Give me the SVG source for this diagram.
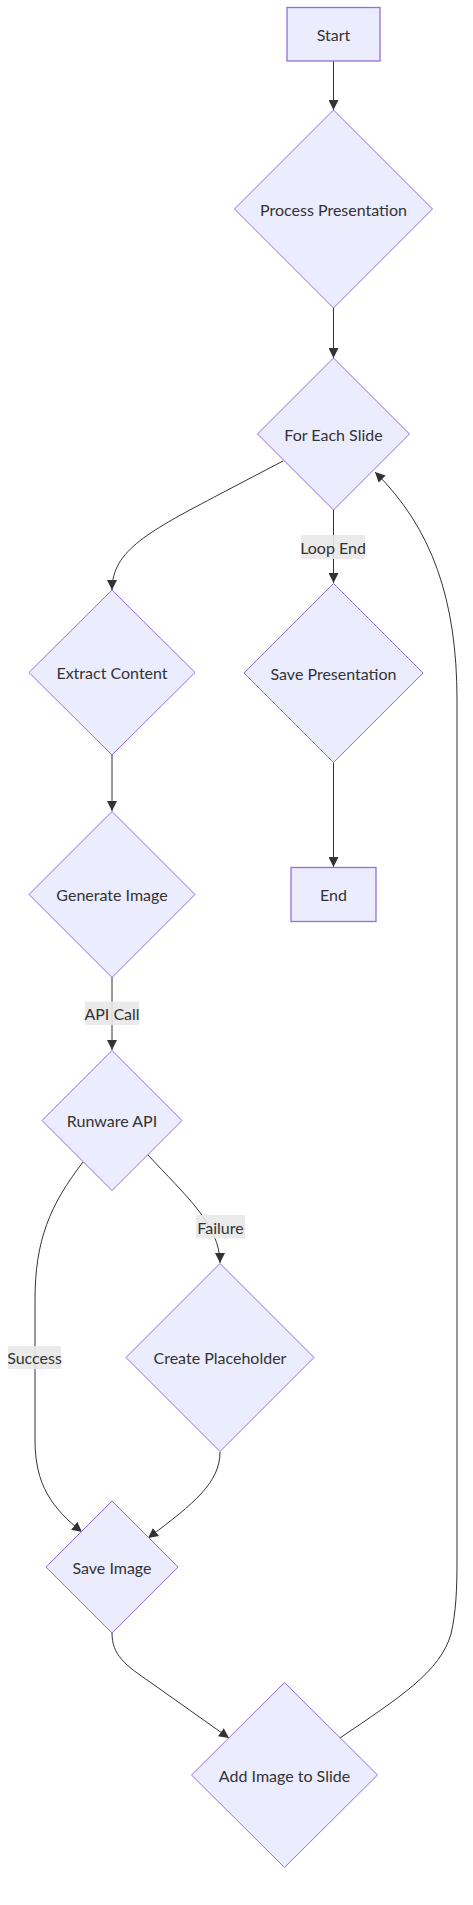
<svg xmlns="http://www.w3.org/2000/svg" width="473" height="1905" viewBox="0 0 473 1905">
<style>
.n{fill:#ECECFF;stroke:#9370DB;stroke-width:1}
.r{fill:#ECECFF;stroke:#9370DB;stroke-width:1.3}
.t{font-family:"Trebuchet MS",Lato,"DejaVu Sans",sans-serif;font-size:16px;fill:#333;text-anchor:middle;dominant-baseline:central}
.e{fill:none;stroke:#333;stroke-width:1}
.lb{fill:#e8e8e8;opacity:0.9}
</style>
<defs>
<marker id="ah" viewBox="0 0 10 10" refX="10" refY="5" markerUnits="userSpaceOnUse" markerWidth="10" markerHeight="10" orient="auto">
<path d="M0,0 L10,5 L0,10 z" fill="#333"/>
</marker>
</defs>
<rect width="473" height="1905" fill="#fff"/>
<g id="edges">
<path class="e" marker-end="url(#ah)" d="M333.5,61 L333.5,110"/>
<path class="e" marker-end="url(#ah)" d="M333.5,308 L333.5,358"/>
<path class="e" marker-end="url(#ah)" d="M283,461 L220,494 C150,531 112,550 112,590"/>
<path class="e" marker-end="url(#ah)" d="M333.5,510 L333.5,583"/>
<path class="e" marker-end="url(#ah)" d="M112,755 L112,811"/>
<path class="e" marker-end="url(#ah)" d="M333.5,762 L333.5,867"/>
<path class="e" marker-end="url(#ah)" d="M112,977 L112,1050"/>
<path class="e" marker-end="url(#ah)" d="M83,1162 C50,1205 35,1240 35,1300 L35,1440 C35,1485 52,1508 82,1532"/>
<path class="e" marker-end="url(#ah)" d="M148,1155 C185,1195 220,1225 220,1263"/>
<path class="e" marker-end="url(#ah)" d="M220,1452 C220,1482 195,1503 148,1538"/>
<path class="e" marker-end="url(#ah)" d="M112,1633 C112,1655 125,1665 150,1682 L229,1738"/>
<path class="e" marker-end="url(#ah)" d="M340,1738 C400,1697 440,1672 451,1634 C456,1612 457,1590 457,1560 L457,700 C457,600 432,528 375,472"/>
</g>
<g id="edge-labels">
<rect class="lb" x="301" y="535" width="64" height="24"/>
<text class="t" x="333" y="547">Loop End</text>
<rect class="lb" x="85" y="1001.5" width="54" height="23.5"/>
<text class="t" x="112" y="1013">API Call</text>
<rect class="lb" x="196" y="1215" width="49" height="23.5"/>
<text class="t" x="220.5" y="1227">Failure</text>
<rect class="lb" x="8" y="1346" width="53" height="23"/>
<text class="t" x="34.5" y="1357.5">Success</text>
</g>
<g id="start">
<rect class="r" x="287" y="7.5" width="93" height="53.5"/>
<text class="t" x="333.5" y="34">Start</text>
</g>
<g id="process">
<polygon class="n" points="333.5,110 432.5,209 333.5,308 234.5,209"/>
<text class="t" x="333.5" y="209">Process Presentation</text>
</g>
<g id="foreach">
<polygon class="n" points="333.5,358 409.5,434 333.5,510 257.5,434"/>
<text class="t" x="333.5" y="434">For Each Slide</text>
</g>
<g id="extract">
<polygon class="n" points="112,590 195,672.5 112,755 29,672.5"/>
<text class="t" x="112" y="672.5">Extract Content</text>
</g>
<g id="savepres">
<polygon class="n" points="333.5,583.5 423,673 333.5,762.5 244,673"/>
<text class="t" x="333.5" y="673">Save Presentation</text>
</g>
<g id="end">
<rect class="r" x="291" y="867.5" width="85" height="54"/>
<text class="t" x="333.5" y="894.5">End</text>
</g>
<g id="generate">
<polygon class="n" points="112,811.5 195,894.5 112,977.5 29,894.5"/>
<text class="t" x="112" y="894.5">Generate Image</text>
</g>
<g id="runware">
<polygon class="n" points="112,1050.5 182,1120.5 112,1190.5 42,1120.5"/>
<text class="t" x="112" y="1120.5">Runware API</text>
</g>
<g id="placeholder">
<polygon class="n" points="220,1263.5 314,1357.5 220,1451.5 126,1357.5"/>
<text class="t" x="220" y="1357.5">Create Placeholder</text>
</g>
<g id="saveimage">
<polygon class="n" points="112,1501 178,1567 112,1633 46,1567"/>
<text class="t" x="112" y="1567">Save Image</text>
</g>
<g id="addimage">
<polygon class="n" points="284.5,1682.5 377.5,1775 284.5,1867.5 191.5,1775"/>
<text class="t" x="284.5" y="1775">Add Image to Slide</text>
</g>
</svg>
